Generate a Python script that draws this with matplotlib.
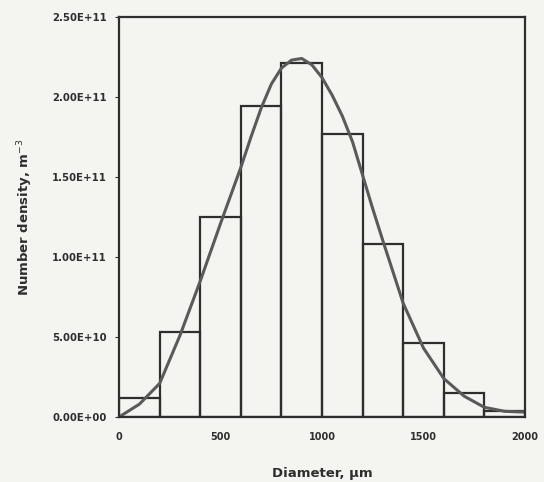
import matplotlib.pyplot as plt

# histogram classes (bin left edges, um) and number density (m^-3)
bin_left = [0, 200, 400, 600, 800, 1000, 1200, 1400, 1600, 1800]
bin_width = 200
density = [1.2e10, 5.3e10, 1.25e11, 1.94e11, 2.21e11, 1.77e11, 1.08e11, 4.6e10, 1.5e10, 3.5e9]

# fitted curve
curve_d = [0, 100, 200, 300, 400, 500, 600, 650, 700, 750, 800, 850, 900, 950, 1000,
           1050, 1100, 1150, 1200, 1250, 1300, 1400, 1500, 1600, 1700, 1800, 1900, 2000]
curve_n = [0, 8e9, 2.1e10, 5.1e10, 8.5e10, 1.21e11, 1.56e11, 1.75e11, 1.93e11, 2.08e11, 2.18e11,
           2.23e11, 2.24e11, 2.2e11, 2.12e11,
           2.01e11, 1.88e11, 1.72e11, 1.51e11, 1.3e11, 1.1e11, 7.1e10, 4.3e10, 2.4e10, 1.3e10,
           6e9, 3.5e9, 3e9]

yticks = [0, 5e10, 1e11, 1.5e11, 2e11, 2.5e11]
ylabels = ["0.00E+00", "5.00E+10", "1.00E+11", "1.50E+11", "2.00E+11", "2.50E+11"]
xticks = [0, 500, 1000, 1500, 2000]

bg = "#f4f4f1"
ink = "#2e2e2e"

fig = plt.figure(figsize=(5.44, 4.82), dpi=100, facecolor=bg)
ax = fig.add_axes([0.219, 0.135, 0.746, 0.83], facecolor=bg)

ax.bar(bin_left, density, width=bin_width, align="edge", fill=False,
       edgecolor=ink, linewidth=1.6)
ax.plot(curve_d, curve_n, color="#5a5a5a", linewidth=2.2)

ax.set_xlim(0, 2000)
ax.set_ylim(0, 2.5e11)
ax.set_xticks(xticks)
ax.set_xticklabels([str(v) for v in xticks], fontsize=7, fontweight="bold", color=ink)
ax.set_yticks(yticks)
ax.set_yticklabels(ylabels, fontsize=7.3, fontweight="bold", color=ink)
ax.tick_params(axis="x", length=0, pad=11)
ax.tick_params(axis="y", length=3, direction="out", color=ink, pad=6)
for s in ax.spines.values():
    s.set_color(ink)
    s.set_linewidth(1.6)

ax.set_xlabel("Diameter, \u00b5m", fontsize=9.5, fontweight="bold", color=ink, labelpad=18)
ax.set_ylabel("Number density, m$^{-3}$", fontsize=9.5, fontweight="bold", color=ink, labelpad=12)

plt.savefig("out.png", dpi=100, facecolor=bg)
